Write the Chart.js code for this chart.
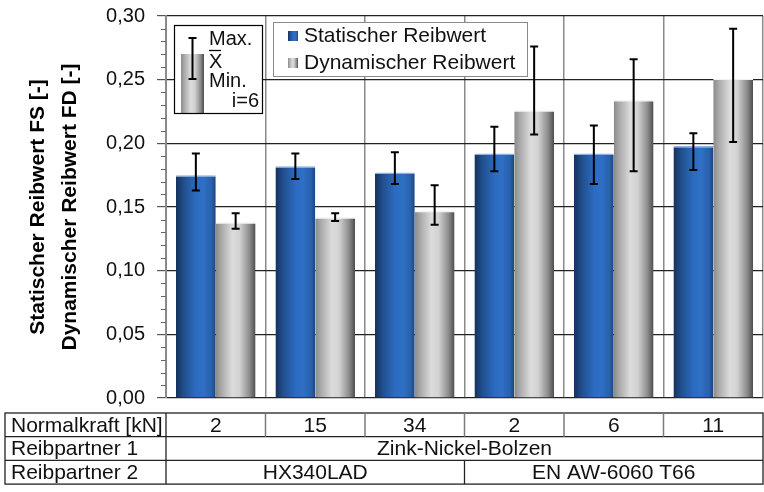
<!DOCTYPE html>
<html>
<head>
<meta charset="utf-8">
<script src="https://cdn.jsdelivr.net/npm/chart.js@4.4.1/dist/chart.umd.min.js"></script>
<style>
  html, body { margin: 0; padding: 0; background: #fff; }
</style>
</head>
<body>
<canvas id="reibwert_canvas" width="764" height="492"></canvas>
<script>
// table rows under the chart
var rowLabels = ['Normalkraft [kN]', 'Reibpartner 1', 'Reibpartner 2'];
var normalkraft = ['2', '15', '34', '2', '6', '11'];
var reibpartner1 = [{ text: 'Zink-Nickel-Bolzen', span: 6 }];
var reibpartner2 = [{ text: 'HX340LAD', span: 3 }, { text: 'EN AW-6060 T66', span: 3 }];

// series (mean, max, min)
var seriesNames = ['Statischer Reibwert', 'Dynamischer Reibwert'];
var statisch    = [0.175, 0.182, 0.177, 0.192, 0.192, 0.198];
var statischMax = [0.192, 0.192, 0.193, 0.213, 0.214, 0.208];
var statischMin = [0.163, 0.172, 0.168, 0.178, 0.168, 0.179];
var dynamisch    = [0.138, 0.142, 0.147, 0.226, 0.234, 0.251];
var dynamischMax = [0.145, 0.145, 0.167, 0.276, 0.266, 0.290];
var dynamischMin = [0.133, 0.139, 0.136, 0.207, 0.178, 0.201];

var yMin = 0, yMax = 0.30, yStep = 0.05, yMinorStep = 0.01;
var yTitle = ['Statischer Reibwert FS [-]', 'Dynamischer Reibwert FD [-]'];
var insetLines = ['Max.', 'X', 'Min.', 'i=6'];

var FONT = '"Liberation Sans", Arial, sans-serif';
var blueStops = [[0, '#15325c'], [0.2, '#214f8e'], [0.5, '#2c6bc0'], [0.7, '#2f6fc5'], [0.9, '#2860aa'], [1, '#1d4479']];
var greyStops = [[0, '#8a8a8a'], [0.15, '#ababab'], [0.42, '#dcdcdc'], [0.6, '#d2d2d2'], [0.85, '#8c8c8c'], [1, '#4d4d4d']];

function gradient(ctx, x, w, stops) {
    var g = ctx.createLinearGradient(x, 0, x + w, 0);
    stops.forEach(function (s) { g.addColorStop(s[0], s[1]); });
    return g;
}

function barFill(stops, side) {
    return function (c) {
        var chart = c.chart, xs = chart.scales.x;
        if (!xs || c.type !== 'data') return stops[2][1];
        var w = (xs.right - xs.left) / normalkraft.length * 0.8 / 2;
        var mid = xs.getPixelForValue(c.dataIndex);
        var x0 = side === 0 ? mid - w : mid;
        if (!isFinite(x0) || !isFinite(w) || w <= 0) return stops[2][1];
        return gradient(chart.ctx, x0, w, stops);
    };
}

var errorBars = {
    id: 'errorBars',
    afterDatasetsDraw: function (chart) {
        var ctx = chart.ctx, ys = chart.scales.y;
        var ranges = [[statischMin, statischMax], [dynamischMin, dynamischMax]];
        ctx.save();
        ctx.strokeStyle = '#000';
        ctx.lineWidth = 2;
        ranges.forEach(function (r, di) {
            chart.getDatasetMeta(di).data.forEach(function (el, i) {
                var x = el.x;
                var yt = ys.getPixelForValue(r[1][i]), yb = ys.getPixelForValue(r[0][i]);
                ctx.beginPath();
                ctx.moveTo(x, yt); ctx.lineTo(x, yb);
                ctx.moveTo(x - 4, yt); ctx.lineTo(x + 4, yt);
                ctx.moveTo(x - 4, yb); ctx.lineTo(x + 4, yb);
                ctx.stroke();
            });
        });
        ctx.restore();
    }
};

var decorations = {
    id: 'decorations',
    afterDraw: function (chart) {
        var ctx = chart.ctx, a = chart.chartArea, ys = chart.scales.y;
        ctx.save();

        // minor ticks on the y axis
        ctx.strokeStyle = '#666';
        ctx.lineWidth = 1;
        for (var v = yMin; v <= yMax + 1e-9; v += yMinorStep) {
            var k = Math.round(v / yMinorStep);
            if (k % Math.round(yStep / yMinorStep) === 0) continue;
            var y = Math.round(ys.getPixelForValue(v)) + 0.5;
            ctx.beginPath(); ctx.moveTo(a.left - 5, y); ctx.lineTo(a.left, y); ctx.stroke();
        }

        // inset explanation box
        var bx = a.left + 8, by = a.top + 9, bw = 88, bh = 88;
        ctx.fillStyle = '#fff';
        ctx.fillRect(bx, by, bw, bh);
        ctx.fillStyle = gradient(ctx, bx + 7, 23, greyStops);
        ctx.fillRect(bx + 7, by + 29, 23, bh - 29);
        ctx.strokeStyle = '#000';
        ctx.lineWidth = 1.2;
        ctx.strokeRect(bx + 0.5, by + 0.5, bw, bh);
        ctx.lineWidth = 2;
        var ex = bx + 18.5;
        ctx.beginPath();
        ctx.moveTo(ex, by + 13); ctx.lineTo(ex, by + 54);
        ctx.moveTo(ex - 4, by + 13); ctx.lineTo(ex + 4, by + 13);
        ctx.moveTo(ex - 4, by + 54); ctx.lineTo(ex + 4, by + 54);
        ctx.stroke();
        ctx.fillStyle = '#111';
        ctx.font = '20px ' + FONT;
        ctx.textBaseline = 'middle';
        ctx.textAlign = 'left';
        ctx.fillText(insetLines[0], bx + 35, by + 14);
        ctx.fillText(insetLines[1], bx + 35, by + 37);
        ctx.lineWidth = 1.3;
        ctx.beginPath(); ctx.moveTo(bx + 35, by + 25.5); ctx.lineTo(bx + 47, by + 25.5); ctx.stroke();
        ctx.fillText(insetLines[2], bx + 35, by + 56);
        ctx.textAlign = 'right';
        ctx.fillText(insetLines[3], bx + 85, by + 76);

        // legend
        ctx.font = '21px ' + FONT;
        var lx = a.left + 107, ly = a.top + 6, lw = 254, lh = 54;
        ctx.fillStyle = '#fff';
        ctx.fillRect(lx, ly, lw, lh);
        ctx.strokeStyle = '#8a8a8a';
        ctx.lineWidth = 1;
        ctx.strokeRect(lx + 0.5, ly + 0.5, lw, lh);
        [blueStops, greyStops].forEach(function (st, i) {
            var cy = ly + 13 + i * 27;
            ctx.fillStyle = gradient(ctx, lx + 15, 10, st);
            ctx.fillRect(lx + 15, cy - 4, 10, 10);
            ctx.fillStyle = '#111';
            ctx.textAlign = 'left';
            ctx.fillText(seriesNames[i], lx + 31, cy + 1);
        });

        // table under the chart
        var cat = (a.right - a.left) / normalkraft.length;
        var tx0 = 5, tx1 = a.right, top = a.bottom + 15, rh = 23.7;
        ctx.strokeStyle = '#222';
        ctx.lineWidth = 1.3;
        ctx.strokeRect(tx0, top, tx1 - tx0, rh * 3);
        ctx.beginPath();
        ctx.moveTo(tx0, top + rh); ctx.lineTo(tx1, top + rh);
        ctx.moveTo(tx0, top + 2 * rh); ctx.lineTo(tx1, top + 2 * rh);
        ctx.moveTo(a.left, top); ctx.lineTo(a.left, top + 3 * rh);
        ctx.stroke();
        ctx.strokeStyle = '#7a7a7a';
        ctx.lineWidth = 1.5;
        for (var i = 1; i < normalkraft.length; i++) {
            ctx.beginPath();
            ctx.moveTo(a.left + i * cat, top); ctx.lineTo(a.left + i * cat, top + rh);
            ctx.stroke();
        }
        ctx.fillStyle = '#111';
        ctx.textAlign = 'left';
        rowLabels.forEach(function (t, r) { ctx.fillText(t, tx0 + 6, top + rh * r + rh / 2 + 1); });
        ctx.textAlign = 'center';
        normalkraft.forEach(function (t, i) { ctx.fillText(t, a.left + (i + 0.5) * cat, top + rh / 2 + 1); });
        [reibpartner1, reibpartner2].forEach(function (cells, r) {
            var start = 0;
            cells.forEach(function (cell) {
                var xl = a.left + start * cat, xr = a.left + (start + cell.span) * cat;
                ctx.fillText(cell.text, (xl + xr) / 2, top + rh * (r + 1) + rh / 2 + 1);
                if (start > 0) {
                    ctx.strokeStyle = '#222';
                    ctx.lineWidth = 1.3;
                    ctx.beginPath(); ctx.moveTo(xl, top + rh * (r + 1)); ctx.lineTo(xl, top + rh * (r + 2)); ctx.stroke();
                }
                start += cell.span;
            });
        });
        ctx.restore();
    }
};

function reibwert_chart() {
    var ctx = document.getElementById('reibwert_canvas');
    new Chart(ctx, {
        type: 'bar',
        data: {
            labels: normalkraft,
            datasets: [{
                label: seriesNames[0],
                data: statisch,
                backgroundColor: barFill(blueStops, 0),
                borderColor: '#8fb0dc',
                borderWidth: { top: 1.5, left: 0, right: 0, bottom: 0 },
                borderSkipped: false
            }, {
                label: seriesNames[1],
                data: dynamisch,
                backgroundColor: barFill(greyStops, 1),
                borderColor: '#f2f2f2',
                borderWidth: { top: 1.5, left: 0, right: 0, bottom: 0 },
                borderSkipped: false
            }]
        },
        options: {
            responsive: false,
            animation: false,
            devicePixelRatio: 1,
            layout: { padding: { left: 0, right: 1, top: 16, bottom: 94 } },
            plugins: { legend: { display: false }, tooltip: { enabled: false } },
            datasets: { bar: { categoryPercentage: 0.8, barPercentage: 1.0 } },
            scales: {
                x: {
                    grid: { offset: true, color: '#8a8a8a', lineWidth: 1.5, drawTicks: false },
                    ticks: { display: false },
                    border: { display: false }
                },
                y: {
                    min: yMin,
                    max: yMax,
                    afterFit: function (s) { s.width = 166; s.paddingTop = 0; s.paddingBottom = 0; },
                    ticks: {
                        stepSize: yStep,
                        padding: 12,
                        color: '#111',
                        font: { family: FONT, size: 20 },
                        callback: function (v) { return v.toFixed(2).replace('.', ','); }
                    },
                    grid: { color: '#222', lineWidth: 1.2, tickLength: 9, tickColor: '#555' },
                    border: { color: '#8a8a8a', width: 2 },
                    title: {
                        display: true,
                        text: yTitle,
                        color: '#000',
                        font: { family: FONT, size: 21, weight: 'bold', lineHeight: 1.52 },
                        padding: { top: 22, bottom: 0 }
                    }
                }
            }
        },
        plugins: [errorBars, decorations]
    });
}

reibwert_chart();
</script>
</body>
</html>
